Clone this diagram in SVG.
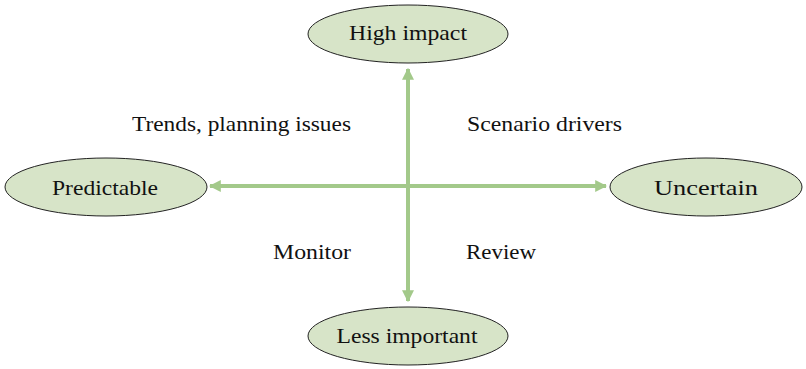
<svg xmlns="http://www.w3.org/2000/svg" width="806" height="369" viewBox="0 0 806 369">
  <defs>
    <marker id="arrow" viewBox="0 0 10 10" refX="9" refY="5" markerWidth="3" markerHeight="3" orient="auto-start-reverse" markerUnits="strokeWidth">
      <path d="M0,0 L10,5 L0,10 z" fill="#a3c98a"/>
    </marker>
  </defs>
  <style>
    .node ellipse { fill: #d7e4c8; stroke: #222; stroke-width: 1; }
    .node text, .label { font-family: "Liberation Serif", "DejaVu Serif", serif; font-size: 22px; fill: #111; }
    .node text { text-anchor: middle; }
    .axis { stroke: #a3c98a; stroke-width: 4; fill: none; }
  </style>

  <g id="connectors">
    <line class="axis" x1="408" y1="186" x2="408" y2="69" marker-end="url(#arrow)"/>
    <line class="axis" x1="408" y1="186" x2="408" y2="301" marker-end="url(#arrow)"/>
    <line class="axis" x1="408" y1="186" x2="210" y2="186" marker-end="url(#arrow)"/>
    <line class="axis" x1="408" y1="186" x2="606" y2="186" marker-end="url(#arrow)"/>
  </g>

  <g id="high-impact" class="node">
    <ellipse cx="408" cy="34" rx="100" ry="29"/>
    <text x="408" y="40" textLength="118" lengthAdjust="spacingAndGlyphs">High impact</text>
  </g>
  <g id="predictable" class="node">
    <ellipse cx="106" cy="187" rx="101" ry="29"/>
    <text x="105" y="195" textLength="106" lengthAdjust="spacingAndGlyphs">Predictable</text>
  </g>
  <g id="uncertain" class="node">
    <ellipse cx="706" cy="187" rx="96" ry="29"/>
    <text x="706" y="195" textLength="104" lengthAdjust="spacingAndGlyphs">Uncertain</text>
  </g>
  <g id="less-important" class="node">
    <ellipse cx="408" cy="336" rx="100" ry="29"/>
    <text x="407" y="343" textLength="141" lengthAdjust="spacingAndGlyphs">Less important</text>
  </g>

  <g id="quadrant-labels">
    <text class="label" x="132" y="131" textLength="219" lengthAdjust="spacingAndGlyphs">Trends, planning issues</text>
    <text class="label" x="467" y="131" textLength="155" lengthAdjust="spacingAndGlyphs">Scenario drivers</text>
    <text class="label" x="273" y="259" textLength="78" lengthAdjust="spacingAndGlyphs">Monitor</text>
    <text class="label" x="466" y="259" textLength="70" lengthAdjust="spacingAndGlyphs">Review</text>
  </g>
</svg>
